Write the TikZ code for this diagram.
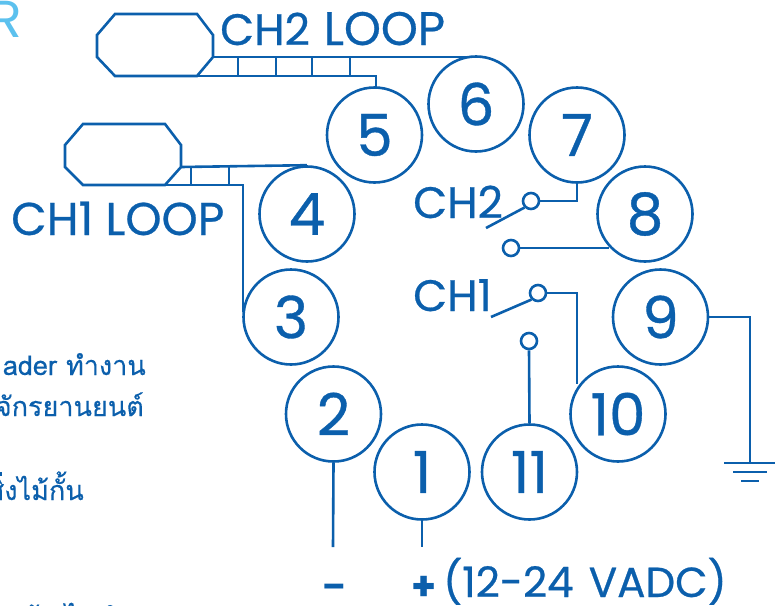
\documentclass[tikz,border=0pt]{standalone}
\usepackage{fontspec}
\setmainfont{Poppins}
\newfontfamily\thaifont[Script=Thai,FakeBold=0.3]{Loma}
\newfontfamily\heavy[FakeBold=0.6]{Poppins}
\definecolor{wireblue}{HTML}{0B5FAC}
\definecolor{skyblue}{HTML}{5CC1EE}
\tikzset{
  x=1pt,y=-1pt,
  wire/.style={draw=wireblue,line width=2.6pt,line join=miter},
  pin/.style={circle,draw=wireblue,line width=2.6pt,minimum size=95pt,inner sep=0pt,text=wireblue,font=\heavy\fontsize{58}{58}\selectfont},
  term/.style={circle,draw=wireblue,line width=2.6pt,minimum size=16pt,inner sep=0pt,fill=white},
  lbl/.style={text=wireblue,inner sep=0pt,font=\heavy\fontsize{44}{44}\selectfont},
  thai/.style={text=wireblue,inner sep=0pt,font=\thaifont\fontsize{27}{27}\selectfont},
}
\begin{document}
\begin{tikzpicture}
\useasboundingbox (0,0) rectangle (783,605);
\clip (0,0) rectangle (783,605);
% wires first, so that the pin circles sit over their ends
\coordinate (a1) at (115,14);\coordinate (a2) at (197,14);\coordinate (a3) at (213,35);
\coordinate (a4) at (213,57);\coordinate (a5) at (197,76);\coordinate (a6) at (115,76);
\coordinate (a7) at (97,57);\coordinate (a8) at (97,35);
\draw[wire] (a1)--(a2)--(a3)--(a4)--(a5)--(a6)--(a7)--(a8)--cycle;
\coordinate (b1) at (83,124);\coordinate (b2) at (165,124);\coordinate (b3) at (181,145);
\coordinate (b4) at (181,167);\coordinate (b5) at (165,185);\coordinate (b6) at (83,185);
\coordinate (b7) at (65,167);\coordinate (b8) at (65,145);
\draw[wire] (b1)--(b2)--(b3)--(b4)--(b5)--(b6)--(b7)--(b8)--cycle;
% pins
\node[pin] (p5) at (374.5,135) {5};
\node[pin] (p6) at (476,104) {6};
\node[pin] (p7) at (577,135) {7};
\node[pin] (p4) at (307,214) {4};
\node[pin] (p8) at (645,214) {8};
\node[pin] (p3) at (291,317) {3};
\node[pin] (p9) at (660.5,317) {9};
\node[pin] (p2) at (333.5,414) {2};
\node[pin] (p10) at (618,414) {10};
\node[pin] (p1) at (422,472) {1};
\node[pin] (p11) at (529.5,472) {11};
% terminals
\node[term] (t7) at (531,201) {};
\node[term] (t8) at (511,248) {};
\node[term] (t10) at (538,293) {};
\node[term] (t11) at (529,341) {};
% texts
\node[text=skyblue,anchor=base east,inner sep=0pt,font=\fontsize{52}{52}\selectfont] (brand) at (22,37) {R};
\node[lbl,anchor=base west] (ch2loop) at (220,45) {CH2\hspace{2pt} {\fontsize{47}{47}\selectfont LOOP}};
\node[lbl,anchor=base west,font=\heavy\fontsize{46}{46}\selectfont] (ch1loop) at (11,235) {CH1 LOOP};
\node[lbl,anchor=base west] (ch2) at (413,218) {CH2};
\node[lbl,anchor=base west] (ch1) at (413,311) {CH1};
\node[lbl,anchor=base west,font=\fontsize{40}{40}\selectfont] (plus) at (411,600) {\textbf{+}};
\node[lbl,anchor=base west,font=\fontsize{34}{34}\selectfont] (minus) at (322,598) {\textbf{–}};
\node[lbl,anchor=base west,font=\heavy\fontsize{42}{42}\selectfont] (vdc) at (443,597) {(12-24\hspace{4pt} VADC)};
\node[thai,anchor=base east] (th1) at (146,375) {ader ทำงาน};
\node[thai,anchor=base east] (th2) at (144,416) {จักรยานยนต์};
\node[thai,anchor=base east] (th3) at (84,500) {สิ่งไม้กั้น};
\node[thai,anchor=base west] (th4) at (22,627) {น้า ไม่ทำ};
% CH2 loop wires
\coordinate (u) at (476,57);
\draw[wire] (a4) -- (u);
\draw[wire] (a5) -- (376,76) -- (376,87);
\foreach \xx in {238,276,312,350} \draw[wire] (\xx,57) -- (\xx,76);
% CH1 loop wires
\draw[wire] (b4) -- (p4.north);
\draw[wire] (b5) -- (243,185) -- (243,312);
\foreach \xx in {191,229} \draw[wire] (\xx,167) -- (\xx,185);
% relay wires
\draw[wire] (p7.south) -- (577,201) -- (t7.east);
\draw[wire] (t7.south west) -- (486,228);
\draw[wire] (t8.east) -- (609,248);
\draw[wire] (t10.east) -- (577,293) -- (577,384);
\draw[wire] (t10.south west) -- (491,317);
\draw[wire] (t11.south) -- (p11.north);
% supply
\coordinate (gnd) at (750,463);
\draw[wire] (p9.east) -- (750,317) -- (gnd);
\draw[wire] (724,463) -- (775,463);
\draw[wire] (733,472) -- (767,472);
\draw[wire] (741,481) -- (759,481);
\coordinate (m) at (333,547);\coordinate (n) at (422,547);
\draw[wire] (p2.south) -- (m);
\draw[wire] (p1.south) -- (n);
\end{tikzpicture}
\end{document}
